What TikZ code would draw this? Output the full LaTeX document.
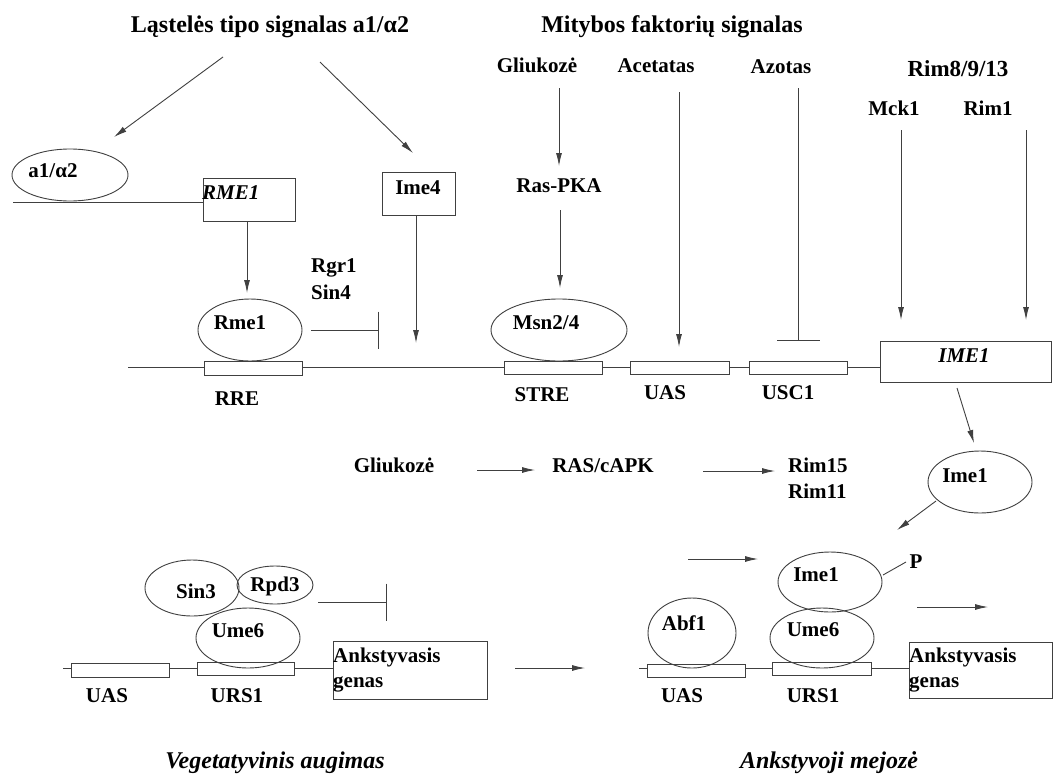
\documentclass[tikz,border=0pt]{standalone}
\usepackage{fontspec}
\setmainfont{Liberation Serif}
\usetikzlibrary{arrows.meta,shapes.geometric}
\begin{document}
\begin{tikzpicture}[x=1pt,y=-1pt,
  lab/.style={font=\fontsize{21}{26}\selectfont\bfseries, inner sep=0pt, anchor=base, yshift=-7pt},
  big/.style={font=\fontsize{23}{28}\selectfont\bfseries, inner sep=0pt, anchor=base, yshift=-8pt},
  ttl/.style={font=\fontsize{24}{29}\selectfont\bfseries, inner sep=0pt, anchor=base, yshift=-8pt},
  itl/.style={font=\fontsize{24}{29}\selectfont\bfseries\itshape, inner sep=0pt, anchor=base, yshift=-8pt},
  gene/.style={font=\fontsize{21}{26}\selectfont\bfseries\itshape, inner sep=0pt, anchor=base, yshift=-7pt},
  ln/.style={draw=black!75, line width=0.9pt},
  arr/.style={ln, -{Latex[length=13pt,width=6pt]}},
  inh/.style={ln, -{Bar[width=#1]}},
  ell/.style={draw=black!75, line width=0.9pt, ellipse, inner sep=0pt},
  box/.style={draw=black!75, line width=0.9pt, rectangle, fill=white, inner sep=0pt}
]
\fill[white] (0,0) rectangle (1054,774);
\path[use as bounding box] (0,0) rectangle (1054,774);

% ---------- top titles and signals ----------
\node[ttl] (t1) at (270,24) {Ląstelės tipo signalas a1/α2};
\node[ttl] (t2) at (672,24) {Mitybos faktorių signalas};
\node[lab] (gl1) at (537,65) {Gliukozė};
\node[lab] (ac) at (656,65) {Acetatas};
\node[lab] (az) at (781,66) {Azotas};
\node[big] (rim8) at (958,68) {Rim8/9/13};
\node[lab] (mck) at (894,108) {Mck1};
\node[lab] (rim1) at (988,108) {Rim1};
\node[lab] (raspka) at (559,185) {Ras-PKA};

% ---------- upper left ----------
\node[ell, minimum width=116pt, minimum height=52pt] (a1e) at (70,175) {};
\node[lab] (a1t) at (53,170) {a1/α2};
\node[box, minimum width=92pt, minimum height=43pt] (rmebox) at (249,199.5) {};
\node[gene, anchor=base west] (rmet) at (202,192) {RME1};
\node[box, minimum width=73pt, minimum height=43pt] (ime4box) at (418.5,193.5) {};
\node[lab] (ime4t) at (418,187) {Ime4};
\coordinate (a1l) at (13,202);
\draw[ln] (a1l) -- (a1l -| rmebox.west);

\coordinate (t1a) at (223,57);
\coordinate (t1ae) at (114,137);
\coordinate (t1b) at (320,62);
\coordinate (t1be) at (413,153);
\draw[arr] (t1a) -- (t1ae);
\draw[arr] (t1b) -- (t1be);

\node[lab, anchor=base west] (rgr) at (311,265) {Rgr1};
\node[lab, anchor=base west] (sin4) at (311,292) {Sin4};

% ---------- upper DNA ----------
\coordinate (dna1) at (128,367);
\node[box, minimum width=171pt, minimum height=41pt] (ime1box) at (965.5,361.5) {};
\node[gene] (ime1t) at (964,355) {IME1};
\draw[ln] (dna1) -- (dna1 -| ime1box.west);
\node[box, minimum width=98pt, minimum height=14pt] (rre) at (253,368.5) {};
\node[box, minimum width=98pt, minimum height=13pt] (stre) at (553,368) {};
\node[box, minimum width=99pt, minimum height=13pt] (uas1) at (679.5,368) {};
\node[box, minimum width=98pt, minimum height=13pt] (usc1) at (798,368) {};
\node[lab] (rret) at (237,398) {RRE};
\node[lab] (stret) at (542,394) {STRE};
\node[lab] (uas1t) at (665,392) {UAS};
\node[lab] (usc1t) at (788,392) {USC1};

\node[ell, minimum width=104pt, minimum height=62pt] (rme1e) at (250,330) {};
\node[lab] (rme1t) at (240,322) {Rme1};
\node[ell, minimum width=136pt, minimum height=62pt] (msne) at (559,330) {};
\node[lab] (msnt) at (546,322) {Msn2/4};

\coordinate (rgrs) at (311,330);
\coordinate (rgre) at (379,330);
\draw[inh=37pt] (rgrs) -- (rgre);

\coordinate (rmea) at (247,221);
\coordinate (rmeae) at (247,293);
\draw[arr] (rmea) -- (rmeae);
\coordinate (ime4a) at (416,215);
\coordinate (ime4ae) at (416,343);
\draw[arr] (ime4a) -- (ime4ae);

\coordinate (gla) at (559,88);
\coordinate (glae) at (559,166);
\draw[arr] (gla) -- (glae);
\coordinate (rasa) at (560,210);
\coordinate (rasae) at (560,288);
\draw[arr] (rasa) -- (rasae);
\coordinate (aca) at (679,92);
\coordinate (acae) at (679,347);
\draw[arr] (aca) -- (acae);
\coordinate (aza) at (798,88);
\coordinate (azae) at (798,341);
\draw[inh=43pt] (aza) -- (azae);
\coordinate (mcka) at (901,130);
\coordinate (mckae) at (901,320);
\draw[arr] (mcka) -- (mckae);
\coordinate (rima) at (1026,130);
\coordinate (rimae) at (1026,320);
\draw[arr] (rima) -- (rimae);

% ---------- middle ----------
\node[lab] (gl2) at (394,465) {Gliukozė};
\node[lab] (rascapk) at (603,465) {RAS/cAPK};
\node[lab, anchor=base west] (rim15) at (788,465) {Rim15};
\node[lab, anchor=base west] (rim11) at (788,491) {Rim11};
\coordinate (m1) at (477,470);
\coordinate (m1e) at (535,470);
\draw[arr] (m1) -- (m1e);
\coordinate (m2) at (703,471);
\coordinate (m2e) at (775,471);
\draw[arr] (m2) -- (m2e);

\node[ell, minimum width=104pt, minimum height=62pt] (ime1e) at (980,482) {};
\node[lab] (ime1et) at (965,475) {Ime1};
\coordinate (i1a) at (957,388);
\coordinate (i1ae) at (974,443);
\draw[arr] (i1a) -- (i1ae);
\coordinate (i2a) at (936,501);
\coordinate (i2ae) at (897,530);
\draw[arr] (i2a) -- (i2ae);

% ---------- lower left ----------
\coordinate (dna2) at (63,668);
\node[box, minimum width=154pt, minimum height=58pt] (ankl) at (410,670) {};
\draw[ln] (dna2) -- (dna2 -| ankl.west);
\node[box, minimum width=98pt, minimum height=14pt] (uasl) at (120,670) {};
\node[box, minimum width=97pt, minimum height=13pt] (ursl) at (245.5,668.5) {};
\node[lab, anchor=base west] (ankl1) at (333,655) {Ankstyvasis};
\node[lab, anchor=base west] (ankl2) at (333,680) {genas};
\node[lab] (uaslt) at (107,695) {UAS};
\node[lab] (urslt) at (237,695) {URS1};
\node[ell, minimum width=94pt, minimum height=56pt] (sin3e) at (192,588) {};
\node[lab] (sin3t) at (196,591) {Sin3};
\node[ell, minimum width=76pt, minimum height=38pt] (rpd3e) at (275,585) {};
\node[lab] (rpd3t) at (275,584) {Rpd3};
\node[ell, minimum width=104pt, minimum height=60pt] (ume6l) at (248,638) {};
\node[lab] (ume6lt) at (238,630) {Ume6};
\coordinate (inl) at (318,602);
\coordinate (inle) at (387,602);
\draw[inh=37pt] (inl) -- (inle);
\node[itl] (veg) at (275,760) {Vegetatyvinis augimas};

\coordinate (mid) at (515,668);
\coordinate (mide) at (585,668);
\draw[arr] (mid) -- (mide);

% ---------- lower right ----------
\coordinate (dna3) at (639,668);
\node[box, minimum width=143pt, minimum height=56pt] (ankr) at (980.5,670) {};
\draw[ln] (dna3) -- (dna3 -| ankr.west);
\node[box, minimum width=98pt, minimum height=13pt] (uasr) at (696,670.5) {};
\node[box, minimum width=99pt, minimum height=13pt] (ursr) at (821.5,668.5) {};
\node[lab, anchor=base west] (ankr1) at (909,655) {Ankstyvasis};
\node[lab, anchor=base west] (ankr2) at (909,680) {genas};
\node[lab] (uasrt) at (682,695) {UAS};
\node[lab] (ursrt) at (813,695) {URS1};
\node[ell, minimum width=88pt, minimum height=70pt] (abf1e) at (692,633) {};
\node[lab] (abf1t) at (684,623) {Abf1};
\node[ell, minimum width=104pt, minimum height=60pt] (ume6r) at (822,638) {};
\node[lab] (ume6rt) at (813,629) {Ume6};
\node[ell, minimum width=104pt, minimum height=60pt] (ime1l) at (830,582) {};
\node[lab] (ime1lt) at (816,574) {Ime1};
\node[lab] (pt) at (916,561) {P};
\coordinate (pl) at (883,575);
\coordinate (ple) at (906,562);
\draw[ln] (pl) -- (ple);
\coordinate (r1) at (688,559);
\coordinate (r1e) at (758,559);
\draw[arr] (r1) -- (r1e);
\coordinate (r2) at (917,607);
\coordinate (r2e) at (988,607);
\draw[arr] (r2) -- (r2e);
\node[itl] (mej) at (829,760) {Ankstyvoji mejozė};
\end{tikzpicture}
\end{document}
